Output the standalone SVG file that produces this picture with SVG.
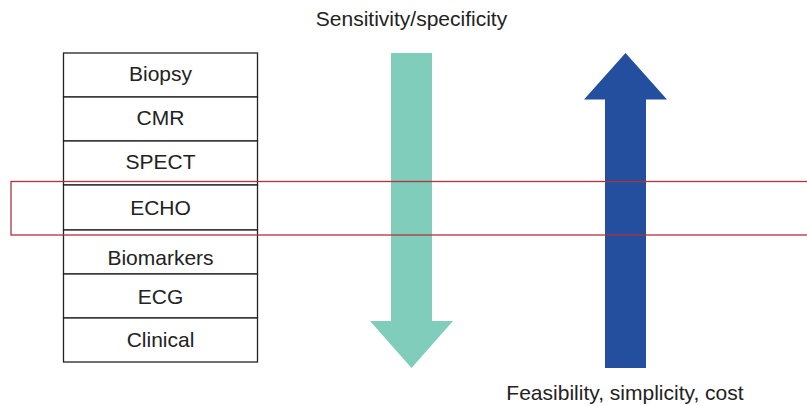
<svg xmlns="http://www.w3.org/2000/svg" width="807" height="406" viewBox="0 0 807 406">
  <style>
    text { font-family: "Liberation Sans", Arial, Helvetica, sans-serif; fill: #222; }
    .cell rect { fill: #fff; stroke: #222; stroke-width: 1.3; }
    .cell text { font-size: 21px; text-anchor: middle; }
    .caption { font-size: 21px; text-anchor: middle; }
    .highlight { fill: none; stroke: #b3303f; stroke-width: 1.3; }
  </style>
  <rect width="807" height="406" fill="#fff"/>

  <!-- Diagnostic modalities stack -->
  <g id="biopsy" class="cell"><rect x="63.5" y="53" width="194" height="44"/><text x="160.5" y="81">Biopsy</text></g>
  <g id="cmr" class="cell"><rect x="63.5" y="97" width="194" height="44"/><text x="160.5" y="125">CMR</text></g>
  <g id="spect" class="cell"><rect x="63.5" y="141" width="194" height="44"/><text x="160.5" y="168.5">SPECT</text></g>
  <g id="echo" class="cell"><rect x="63.5" y="185" width="194" height="45"/><text x="160.5" y="214.5">ECHO</text></g>
  <g id="biomarkers" class="cell"><rect x="63.5" y="230" width="194" height="44"/><text x="160.5" y="265">Biomarkers</text></g>
  <g id="ecg" class="cell"><rect x="63.5" y="274" width="194" height="44"/><text x="160.5" y="303.5">ECG</text></g>
  <g id="clinical" class="cell"><rect x="63.5" y="318" width="194" height="44"/><text x="160.5" y="347">Clinical</text></g>

  <!-- Trend arrows -->
  <g id="arrows">
    <polygon id="sensitivity-arrow" fill="#80cdbb" points="391,53 432,53 432,321 453,321 411.5,368 370,321 391,321"/>
    <polygon id="feasibility-arrow" fill="#244f9e" points="605,368 646,368 646,99.5 667,99.5 625.5,53 584,99.5 605,99.5"/>
  </g>

  <text id="sensitivity-label" class="caption" x="411.5" y="25.5">Sensitivity/specificity</text>
  <text id="feasibility-label" class="caption" x="625" y="400">Feasibility, simplicity, cost</text>

  <!-- ECHO emphasis band -->
  <rect class="highlight" x="11" y="181.5" width="810" height="53.5"/>
</svg>
